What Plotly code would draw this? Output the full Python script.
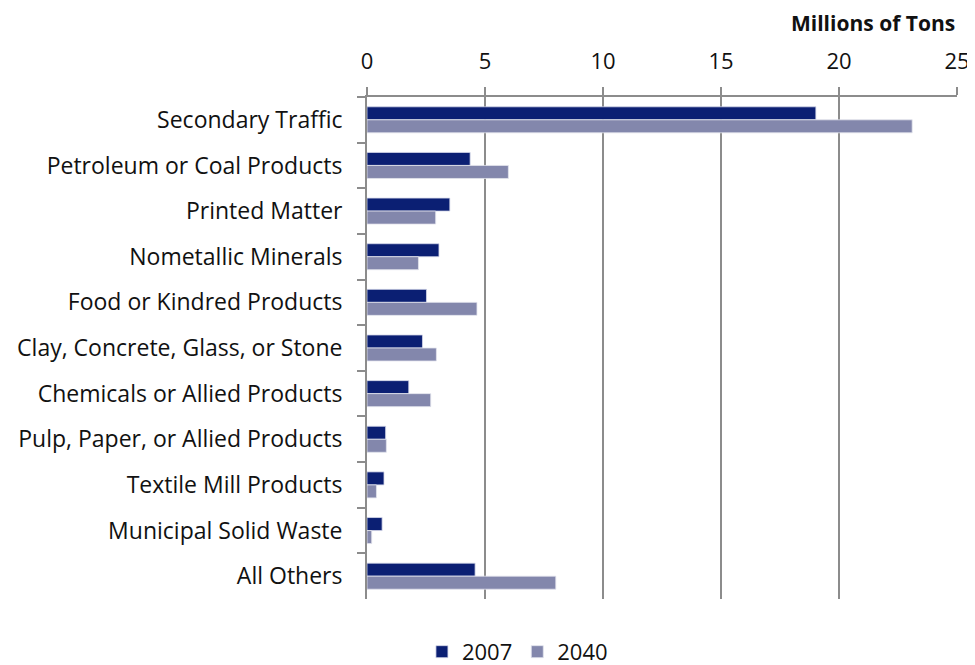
import plotly.graph_objects as go

categories = ["Secondary Traffic", "Petroleum or Coal Products", "Printed Matter",
              "Nometallic Minerals", "Food or Kindred Products",
              "Clay, Concrete, Glass, or Stone", "Chemicals or Allied Products",
              "Pulp, Paper, or Allied Products", "Textile Mill Products",
              "Municipal Solid Waste", "All Others"]
values_2007 = [19.02, 4.37, 3.51, 3.05, 2.52, 2.35, 1.77, 0.79, 0.72, 0.64, 4.58]
values_2040 = [23.1, 5.99, 2.91, 2.18, 4.66, 2.94, 2.70, 0.82, 0.40, 0.20, 8.0]
x_ticks = [0, 5, 10, 15, 20, 25]

FONT = "'Open Sans', sans-serif"
GRID = "#8c8c8c"

fig = go.Figure()
fig.add_trace(go.Bar(y=categories, x=values_2007, name="2007", orientation="h",
                     marker=dict(color="#0B1F73", line=dict(color="#d6d8ea", width=0.8))))
fig.add_trace(go.Bar(y=categories, x=values_2040, name="2040", orientation="h",
                     marker=dict(color="#8387AC", line=dict(color="#e3e4ee", width=0.8))))

fig.update_layout(
    width=967, height=657,
    margin=dict(l=359, r=18, t=89, b=66, autoexpand=False),
    paper_bgcolor="white", plot_bgcolor="white",
    barmode="group", bargap=0.43, bargroupgap=0,
    font=dict(family=FONT, size=22, color="#111111"),
    showlegend=True,
    legend=dict(orientation="h", x=0.255, xanchor="center",
                yref="container", y=0.02, yanchor="middle",
                xref="paper", font=dict(size=22), itemwidth=30,
                traceorder="normal"),
)
fig.update_xaxes(
    side="top", range=[0, 25], tickvals=x_ticks, ticktext=[str(v) for v in x_ticks],
    showgrid=True, gridcolor=GRID, gridwidth=2,
    showline=True, linecolor=GRID, linewidth=2,
    ticks="outside", ticklen=8, tickcolor=GRID, tickwidth=2,
    zeroline=False, tickfont=dict(size=22), automargin=False,
    ticklabelstandoff=9,
)
fig.update_yaxes(
    autorange="reversed", tickson="boundaries",
    showline=True, linecolor=GRID, linewidth=2,
    ticks="outside", ticklen=8, tickcolor=GRID, tickwidth=2,
    showgrid=False, tickfont=dict(size=23), ticksuffix="   ", automargin=False,
)
fig.add_annotation(text="<b>Millions of Tons</b>", xref="paper", yref="paper",
                   x=1.0, xanchor="right", y=1.0, yanchor="bottom", yshift=58,
                   showarrow=False, font=dict(size=21, family=FONT, color="#111111"))

fig.write_html("out.html")
